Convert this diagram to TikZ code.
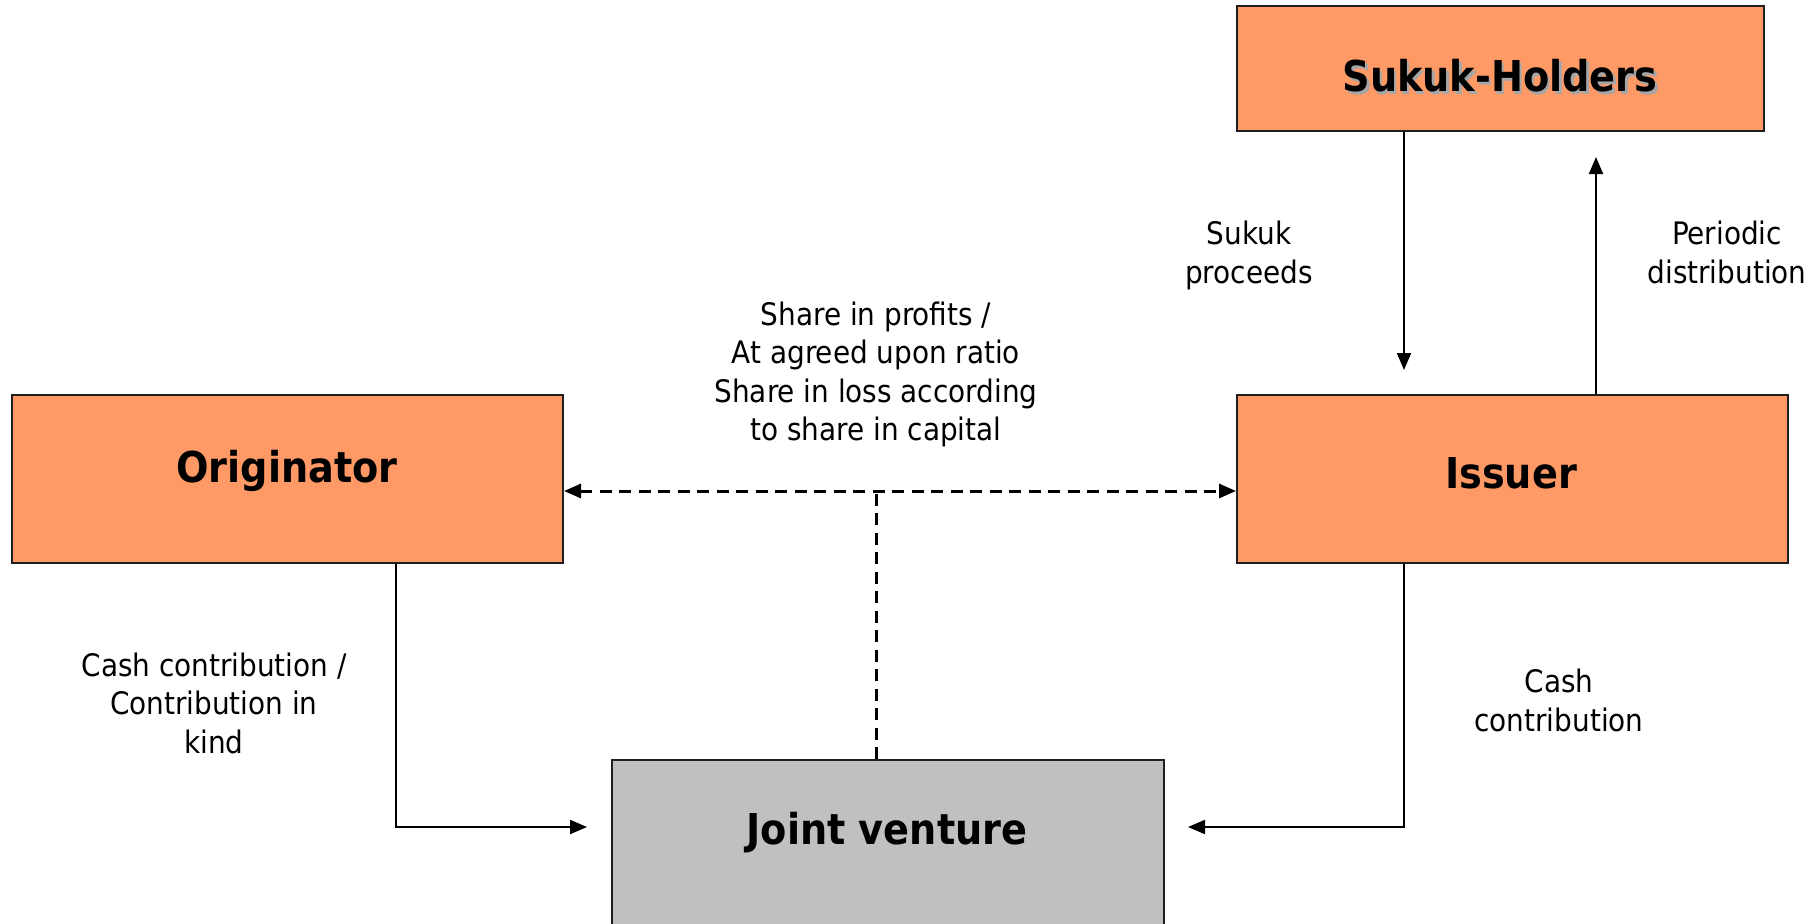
\documentclass[tikz,border=0pt]{standalone}
\usepackage{fontspec}
\setmainfont{DejaVu Sans Condensed}
\usetikzlibrary{arrows.meta}

\tikzset{>={Triangle[length=17pt,width=14pt]}}
\definecolor{partyorange}{HTML}{FF9966}
\definecolor{ventgray}{HTML}{C0C0C0}
\colorlet{edgecol}{black!88}
\colorlet{shadowcol}{black!35}
\tikzstyle{party}=[draw=edgecol,line width=2pt,fill=partyorange,inner sep=0pt]
\tikzstyle{title}=[font=\fontsize{42.5}{50}\selectfont\bfseries,anchor=base,inner sep=0pt]
\tikzstyle{flowtext}=[font=\fontsize{31}{38.5}\selectfont,align=center,anchor=base,inner sep=0pt]
\tikzstyle{flow}=[line width=2pt]
\tikzstyle{link}=[line width=3pt,dash pattern=on 12pt off 7.5pt]

% grey offset copy behind a title
\newcommand\castshadow[1]{\makebox[0pt][l]{\kern2.5pt\raisebox{-2.5pt}{\color{shadowcol}#1}}#1}

\begin{document}
\begin{tikzpicture}[x=1pt,y=-1pt]
  \path[use as bounding box,clip] (0,0) rectangle (1816,924);

  % PARTIES
  \node[party,minimum width=527pt,minimum height=125pt] (sukuk) at (1500.5,68.5) {};
  \node[party,minimum width=551pt,minimum height=168pt] (orig) at (287.5,479) {};
  \node[party,minimum width=551pt,minimum height=168pt] (issuer) at (1512.5,479) {};
  \node[party,fill=ventgray,minimum width=552pt,minimum height=200pt] (jv) at (888,860) {};

  \node[title] (sukuk-t) at (1500,91.5) {\castshadow{Sukuk-Holders}};
  \node[title] (orig-t) at (287,482) {Originator};
  \node[title] (issuer-t) at (1511,488) {Issuer};
  \node[title] (jv-t) at (887,844) {Joint venture};

  % FLOWS
  \coordinate (ox) at (396,827);  % originator leg, arrow level
  \coordinate (ix) at (1404,827); % issuer leg, arrow level
  \coordinate (px) at (1596,0);   % distribution leg
  \coordinate (share) at (876,491);
  \draw[flow,->,shorten >=24pt] (sukuk.south -| ix) -- (issuer.north -| ix);
  \draw[flow,->,shorten >=25pt] (issuer.north -| px) -- (sukuk.south -| px);
  \draw[flow,->,shorten >=24pt] (orig.south -| ox) |- (jv.west |- ox);
  \draw[flow,->,shorten >=23pt] (issuer.south -| ix) |- (jv.east |- ix);
  \draw[link,<->] (orig.east |- share) -- (issuer.west |- share);
  \draw[link] (jv.north -| share) -- (share);

  % labels sit on the baseline of their last line
  \node[flowtext] (proceeds) at (1249,283) {Sukuk\\proceeds};
  \node[flowtext] (distrib) at (1727,283) {Periodic\\distribution};
  \node[flowtext] (profit) at (876,440.5)
    {Share in profits /\\At agreed upon ratio\\Share in loss according\\to share in capital};
  \node[flowtext] (origcash) at (214,753) {Cash contribution /\\Contribution in\\kind};
  \node[flowtext] (issuercash) at (1559,731) {Cash\\contribution};
\end{tikzpicture}
\end{document}
